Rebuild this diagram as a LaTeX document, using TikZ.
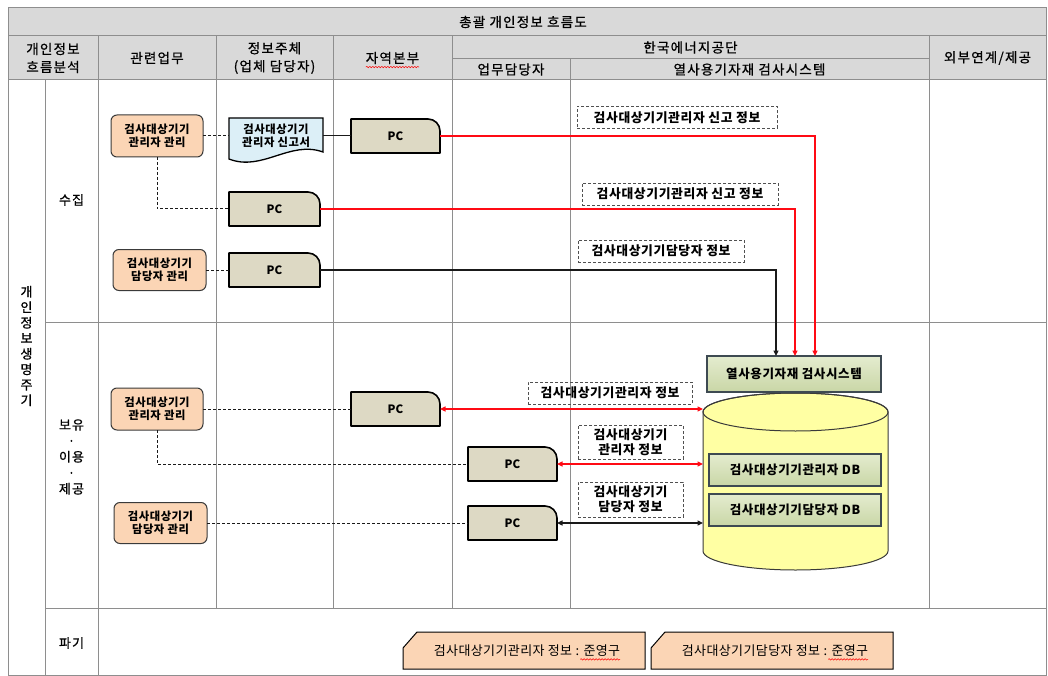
\documentclass[tikz,border=0pt]{standalone}
\usepackage{fontspec}
\setmainfont{Noto Sans CJK KR}
\newfontfamily\hdrfont[FakeBold=0.8,LetterSpace=9]{Noto Sans CJK KR}
\newfontfamily\nodefont[LetterSpace=5]{Noto Sans CJK KR}
\newfontfamily\tagfont[LetterSpace=3]{Noto Sans CJK KR}
\usetikzlibrary{arrows.meta,calc,decorations.pathmorphing}
\definecolor{hdrfill}{HTML}{D9D9D9}
\definecolor{gridgray}{HTML}{8E8E8E}
\definecolor{peach}{HTML}{FBD5B5}
\definecolor{boxedge}{HTML}{3A3A3A}
\definecolor{docfill}{HTML}{DCEFF7}
\definecolor{pcfill}{HTML}{DDD9C4}
\definecolor{systop}{HTML}{E4ECCF}
\definecolor{sysbot}{HTML}{C9D6A6}
\definecolor{sysedge}{HTML}{3E4A52}
\definecolor{cylfill}{HTML}{FFFFA3}
\definecolor{lineblk}{HTML}{1A1A1A}
\definecolor{linered}{HTML}{FF0A14}
\definecolor{lblgray}{HTML}{505050}
\pgfdeclarelayer{gridlayer}
\pgfdeclarelayer{framelayer}
\pgfsetlayers{gridlayer,framelayer,main}
\begin{document}
\begin{tikzpicture}[x=1pt,y=-1pt,
  every node/.style={inner sep=0pt,outer sep=0pt},
  gridline/.style={draw=gridgray,line width=1pt},
  hdrtext/.style={font=\hdrfont\fontsize{13.5}{18}\selectfont,align=center},
  sidetext/.style={font=\hdrfont\fontsize{13}{16}\selectfont,align=center},
  mgmt/.style={draw=boxedge,fill=peach,rounded corners=6pt,line width=1pt,align=center,minimum height=42pt,font=\nodefont\bfseries\fontsize{11.3}{13}\selectfont},
  pcnode/.style={minimum width=89pt,minimum height=34pt,font=\bfseries\fontsize{11.5}{13}\selectfont},
  pcframe/.style={draw=black,fill=pcfill,line width=1.6pt,line join=round},
  docnode/.style={minimum width=94pt,minimum height=36pt,align=center,font=\nodefont\bfseries\fontsize{11.3}{13}\selectfont},
  docframe/.style={draw=black,fill=docfill,line width=1.3pt},
  sysbox/.style={draw=sysedge,line width=1.5pt,top color=systop,bottom color=sysbot,minimum width=174pt,minimum height=36pt,font=\nodefont\bfseries\fontsize{12.5}{14}\selectfont},
  dbbox/.style={sysbox,minimum width=172pt,minimum height=32pt},
  cylframe/.style={draw=boxedge,fill=cylfill,line width=1pt},
  cylrim/.style={draw=boxedge,line width=1pt},
  lbl/.style={draw=lblgray,dash pattern=on 3pt off 2pt,line width=0.7pt,align=center,minimum height=22pt,font=\nodefont\bfseries\fontsize{12.8}{15}\selectfont},
  tagnode/.style={minimum width=242pt,minimum height=37pt},
  tagtext/.style={font=\tagfont\fontsize{13}{15}\selectfont},
  tagframe/.style={draw=black,fill=peach,line width=1pt},
  squiggle/.style={draw=red,line width=0.5pt,decorate,decoration={snake,amplitude=0.7pt,segment length=3pt}},
  dashconn/.style={draw=lineblk,dash pattern=on 3pt off 2pt,line width=1pt},
  solidconn/.style={draw=lineblk,line width=1pt},
  redarr/.style={draw=linered,line width=1.3pt,-{Triangle[length=5.5pt,width=5pt]}},
  blkarr/.style={draw=lineblk,line width=1.1pt,-{Triangle[length=5.5pt,width=5pt]}},
  redboth/.style={draw=linered,line width=1.3pt,{Triangle[length=5.5pt,width=5pt]}-{Triangle[length=5.5pt,width=5pt]}},
  blkboth/.style={draw=lineblk,line width=1.1pt,{Triangle[length=5.5pt,width=5pt]}-{Triangle[length=5.5pt,width=5pt]}}
]
\useasboundingbox (0,0) rectangle (1048,676);

% ---------- table grid ----------
\begin{pgfonlayer}{gridlayer}
  \fill[white] (0,0) rectangle (1048,676);
  \fill[hdrfill] (8,8) rectangle (1046,80);
  \draw[gridline] (8,8) rectangle (1046,675);
  \draw[gridline] (8,36) -- (1046,36);
  \draw[gridline] (8,80) -- (1046,80);
  \draw[gridline] (452,59) -- (929,59);
  \foreach \xx in {98,216,333,452,929} \draw[gridline] (\xx,36) -- (\xx,80);
  \draw[gridline] (570,59) -- (570,80);
  \draw[gridline] (45,80) -- (45,675);
  \draw[gridline] (98,80) -- (98,675);
  \foreach \xx in {216,333,452,570,929} \draw[gridline] (\xx,80) -- (\xx,608);
  \draw[gridline] (45,322) -- (1046,322);
  \draw[gridline] (45,608) -- (1046,608);
\end{pgfonlayer}

% ---------- header texts ----------
\node[hdrtext] (title) at (523,22) {총괄 개인정보 흐름도};
\node[hdrtext] (h1) at (53,58) {개인정보\\흐름분석};
\node[hdrtext] (h2) at (157,58) {관련업무};
\node[hdrtext] (h3) at (274.5,58) {정보주체\\(업체 담당자)};
\node[hdrtext] (h4) at (392.5,58) {자역본부};
\node[hdrtext] (h5) at (690.5,47.5) {한국에너지공단};
\node[hdrtext] (h6) at (511,69.5) {업무담당자};
\node[hdrtext] (h7) at (749.5,69.5) {열사용기자재 검사시스템};
\node[hdrtext] (h8) at (987.5,58) {외부연계/제공};
\draw[squiggle] ($(h4.base west)+(0,4)$) -- ($(h4.base east)+(0,4)$);

% ---------- side texts ----------
\node[sidetext,font=\hdrfont\fontsize{13}{15.5}\selectfont] (life) at (26.5,346) {개\\인\\정\\보\\생\\명\\주\\기};
\node[sidetext] (s1) at (71.5,200) {수집};
\node[sidetext] (s2) at (71.5,457) {보유\\·\\이용\\·\\제공};
\node[sidetext] (s3) at (71.5,643) {파기};

% ---------- nodes ----------
\node[mgmt,minimum width=92pt] (m1) at (157,136) {검사대상기기\\관리자 관리};
\node[mgmt,minimum width=93pt,minimum height=41pt] (m2) at (159.5,270) {검사대상기기\\담당자 관리};
\node[mgmt,minimum width=92pt] (m3) at (157,409) {검사대상기기\\관리자 관리};
\node[mgmt,minimum width=93pt,minimum height=41pt] (m4) at (160.5,523) {검사대상기기\\담당자 관리};

\node[docnode] (doc) at (276,136) {검사대상기기\\관리자 신고서};

\node[pcnode] (pc1) at (395.5,136) {PC};
\node[pcnode,minimum width=91pt] (pc2) at (274.5,209) {PC};
\node[pcnode,minimum width=91pt] (pc3) at (274.5,270) {PC};
\node[pcnode] (pc4) at (395.5,409) {PC};
\node[pcnode] (pc5) at (512.5,464) {PC};
\node[pcnode] (pc6) at (512.5,523) {PC};

\node[minimum width=185pt,minimum height=177pt] (cyl) at (795.5,481.5) {};
\node[sysbox] (sys) at (794,374) {열사용기자재 검사시스템};
\node[dbbox] (db1) at (795,470) {검사대상기기관리자 DB};
\node[dbbox] (db2) at (795,510) {검사대상기기담당자 DB};

\node[lbl,minimum width=200pt] (l1) at (677,117.5) {검사대상기기관리자 신고 정보};
\node[lbl,minimum width=196pt] (l2) at (680,194) {검사대상기기관리자 신고 정보};
\node[lbl,minimum width=166pt] (l3) at (661,251) {검사대상기기담당자 정보};
\node[lbl,minimum width=164pt] (l4) at (610,393) {검사대상기기관리자 정보};
\node[lbl,minimum width=105pt,minimum height=34pt] (l5) at (630.5,442) {검사대상기기\\관리자 정보};
\node[lbl,minimum width=105pt,minimum height=35pt] (l6) at (630.5,499.5) {검사대상기기\\담당자 정보};

\node[tagnode] (t1) at (524,650.5) {};
\node[tagnode] (t2) at (772,650.5) {};
\node[tagtext] (tx1) at (527,650.5) {검사대상기기관리자 정보 : 준영구};
\node[tagtext] (tx2) at (775,650.5) {검사대상기기담당자 정보 : 준영구};
\draw[squiggle] ($(tx1.base east)+(-40,4)$) -- ($(tx1.base east)+(0,4)$);
\draw[squiggle] ($(tx2.base east)+(-40,4)$) -- ($(tx2.base east)+(0,4)$);

% ---------- custom frames ----------
\begin{pgfonlayer}{framelayer}
  \foreach \n in {pc1,pc2,pc3,pc4,pc5,pc6}{
    \path[pcframe] (\n.south west) -- (\n.north west) -- ([xshift=-12pt]\n.north east)
      .. controls ([xshift=-5.4pt]\n.north east) and ([yshift=-5.4pt]\n.north east) .. ([yshift=-12pt]\n.north east)
      -- (\n.south east) -- cycle;
  }
  \path[docframe] ($(doc.south west)+(0,5)$) -- (doc.north west) -- (doc.north east) -- ($(doc.south east)+(0,-2)$)
    .. controls +(-33,-12) and +(33,13) .. ($(doc.south west)+(0,5)$) -- cycle;
  \foreach \n in {t1,t2}{
    \path[tagframe] ($(\n.north west)+(0,16)$) -- ($(\n.north west)+(14,0)$) -- (\n.north east) -- (\n.south east) -- (\n.south west) -- cycle;
  }
  \path[cylframe] ($(cyl.north west)+(0,19)$) -- ($(cyl.south west)+(0,-19)$)
    arc[start angle=180,end angle=360,x radius=92.5pt,y radius=19pt]
    -- ($(cyl.north east)+(0,19)$)
    arc[start angle=0,end angle=180,x radius=92.5pt,y radius=19pt] -- cycle;
  \path[cylrim] ($(cyl.north)+(0,19)$) ellipse[x radius=92.5pt,y radius=19pt];
\end{pgfonlayer}

% ---------- connectors ----------
\draw[dashconn] (m1.east) -- (doc.west);
\draw[solidconn] (doc.east) -- (pc1.west);
\draw[dashconn] (m1.south) |- (pc2.west);
\draw[dashconn] (m2.east) -- (pc3.west);
\draw[redarr] (pc1.east) -| ([xshift=21pt]sys.north);
\draw[redarr] (pc2.east) -| ([xshift=1pt]sys.north);
\draw[blkarr] (pc3.east) -| ([xshift=-18pt]sys.north);

\draw[dashconn] (m3.east) -- (pc4.west);
\draw[dashconn] (m3.south) |- (pc5.west);
\draw[dashconn] (m4.east) -- (pc6.west);
\draw[redboth] (pc4.east) -- (pc4.east -| cyl.west);
\draw[redboth] (pc5.east) -- (pc5.east -| cyl.west);
\draw[blkboth] (pc6.east) -- (pc6.east -| cyl.west);
\end{tikzpicture}
\end{document}
